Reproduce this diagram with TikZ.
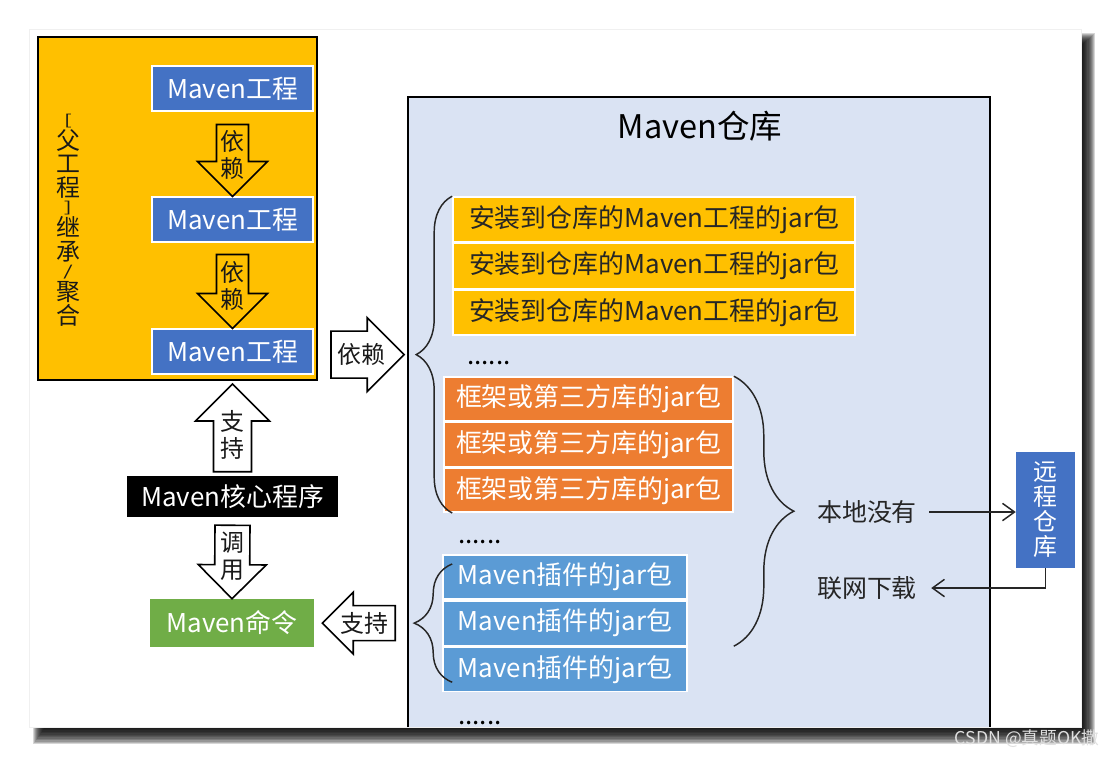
\documentclass[tikz,border=0pt]{standalone}
\usepackage{fontspec}
\setmainfont{Noto Sans CJK SC}
\usepackage{graphicx}
\usetikzlibrary{arrows.meta, positioning, calc, decorations.pathreplacing}

\definecolor{parentorange}{HTML}{FFC000}
\definecolor{projblue}{HTML}{4472C4}
\definecolor{cmdgreen}{HTML}{70AD47}
\definecolor{repofill}{HTML}{DAE3F3}
\definecolor{jaryellow}{HTML}{FFC000}
\definecolor{libred}{HTML}{ED7D31}
\definecolor{pluginblue}{HTML}{5B9BD5}

\newcommand{\pxu}{0.75bp}
\newcommand{\shortch}[1]{\raisebox{3pt}{\scalebox{1}[0.6]{#1}}}
% hollow block arrow: name, tail, tip, shaft half width, head half width, label
\newcommand{\blockarrow}[6]{%
  \coordinate (#1h) at ($(#3)!#5*\pxu!(#2)$);
  \draw[blockarrow] ($(#2)!#4*\pxu!90:(#3)$) -- ($(#1h)!#4*\pxu!90:(#3)$)
    -- ($(#1h)!#5*\pxu!90:(#3)$) -- (#3) -- ($(#1h)!#5*\pxu!-90:(#3)$)
    -- ($(#1h)!#4*\pxu!-90:(#3)$) -- ($(#2)!#4*\pxu!-90:(#3)$) -- cycle;
  \node[arrowlabel] (#1) at ($(#2)!0.42!(#3)$) {#6};
}

\begin{document}
\begin{tikzpicture}[x=0.75bp, y=-0.75bp,
    row/.style={draw=white, line width=1.2bp, inner sep=0pt, font=\fontsize{19.5}{23}\selectfont},
    proj/.style={row, fill=projblue, text=white, minimum width=161*\pxu, minimum height=45*\pxu, line width=0.8bp},
    jarrow/.style={row, fill=jaryellow, text=black!85, minimum width=402*\pxu, minimum height=45*\pxu},
    librow/.style={row, fill=libred, text=white, minimum width=289*\pxu, minimum height=44*\pxu},
    plugrow/.style={row, fill=pluginblue, text=white, minimum width=244*\pxu, minimum height=44.5*\pxu},
    blockarrow/.style={draw=black, line width=1.2bp, line join=miter},
    arrowlabel/.style={align=center, inner sep=0pt, font=\fontsize{18}{20.3}\selectfont, text=black!90},
    lbl/.style={inner xsep=9bp, inner ysep=2bp, font=\fontsize{18.8}{22}\selectfont, text=black!85},
    dots/.style={anchor=base west, inner sep=0pt, font=\fontsize{19.5}{23}\selectfont},
    brace/.style={decorate, draw=black!85, line width=1.1bp},
    conn/.style={draw=black!85, line width=1.1bp, -{Straight Barb[length=9bp,width=13bp]}},
  ]
    \useasboundingbox (0,0) rectangle (1111,757);
    \fill[white] (0,0) rectangle (1111,757);

    % slide with its shadow
    \foreach \k in {0,...,11}
        \fill[black, fill opacity=0.16] (44-\k,44-\k) rectangle (1083+1.1*\k,729+1.4*\k);
    \fill[black!6] (29,29) rectangle (1082,728);
    \fill[white] (30,30) rectangle (1081,727);
    \node[font=\fontsize{13.3}{14}\selectfont, text=black!12, inner sep=0pt] (mark) at (1027,739) {CSDN @真题OK撒};

    % parent project with its modules
    \node[fill=parentorange, draw=black, line width=1.5bp, minimum width=279*\pxu, minimum height=343*\pxu] (parent) at (177.5,208.5) {};
    \node[align=center, inner sep=0pt, font=\fontsize{18}{18}\selectfont, text=black!90] (inherit) at (68,220)
        {\shortch{[}\\[-3pt]父\\工\\程\\[-3pt]\shortch{]}\\[-3pt]继\\承\\[-3pt]\shortch{/}\\[-3pt]聚\\合};
    \node[proj] (p1) at (232.5,88.5) {Maven工程};
    \node[proj] (p2) at (232.5,219.5) {Maven工程};
    \node[proj] (p3) at (232.5,351.5) {Maven工程};

    \coordinate (d1t) at ($(p1.south)+(0,13)$);
    \coordinate (d2t) at ($(p2.south)+(0,12)$);
    \blockarrow{dep1}{d1t}{p2.north}{16}{35}{依\\赖}
    \blockarrow{dep2}{d2t}{p3.north}{16}{35}{依\\赖}

    % core and command
    \node[fill=black, text=white, inner sep=0pt, minimum width=211*\pxu, minimum height=41*\pxu, font=\fontsize{19.5}{23}\selectfont] (core) at (232.5,496.5) {Maven核心程序};
    \node[fill=cmdgreen, text=white, inner sep=0pt, minimum width=164*\pxu, minimum height=48*\pxu, font=\fontsize{19.5}{23}\selectfont] (cmd) at (232,623) {Maven命令};

    \coordinate (s1t) at ($(core.north)+(0,-4)$);
    \coordinate (s1h) at ($(parent.south -| core.north)+(0,3)$);
    \blockarrow{sup1}{s1t}{s1h}{19}{37}{支\\持}
    \coordinate (c1t) at ($(core.south)+(0,8)$);
    \blockarrow{call}{c1t}{cmd.north}{17.5}{34}{调\\用}

    % repository
    \coordinate (repoNW) at (408,97);
    \coordinate (repoSE) at (990,727);
    \fill[repofill] (repoNW) rectangle (repoSE);
    \draw[line width=1.5bp] (repoNW |- repoSE) -- (repoNW) -| (repoSE);
    \node[font=\fontsize{24.5}{28}\selectfont, inner sep=0pt] (title) at (700,126) {Maven仓库};

    \node[jarrow] (y1) at (654,219.5) {安装到仓库的Maven工程的jar包};
    \node[jarrow, below=0pt of y1] (y2) {安装到仓库的Maven工程的jar包};
    \node[jarrow, below=0pt of y2] (y3) {安装到仓库的Maven工程的jar包};
    \node[dots] (etc1) at (467,364) {......};

    \node[librow] (o1) at (588.5,399) {框架或第三方库的jar包};
    \node[librow, below=0pt of o1] (o2) {框架或第三方库的jar包};
    \node[librow, below=0pt of o2] (o3) {框架或第三方库的jar包};
    \node[dots] (etc2) at (458,543) {......};

    \node[plugrow] (m1) at (565,577) {Maven插件的jar包};
    \node[plugrow, below=0pt of m1] (m2) {Maven插件的jar包};
    \node[plugrow, below=0pt of m2] (m3) {Maven插件的jar包};
    \node[dots] (etc3) at (458,724) {......};

    % braces
    \draw[brace, decoration={brace, amplitude=27bp}] (o3.south west -| y1.west) -- (y1.north west);
    \draw[brace, decoration={brace, amplitude=45bp}] (o1.north east) -- (o1.east |- m2.south);
    \draw[brace, decoration={brace, amplitude=28.5bp}] ($(m3.south west)+(10,-10)$) -- ($(m1.north west)+(10,10)$);
    \coordinate (bt1) at ($(y1.north west)!0.5!(o3.south west -| y1.west)+(-36,0)$);
    \coordinate (bt3) at ($(m1.west)!0.5!(m3.west)+(-28,0)$);

    \coordinate (r1t) at ($(bt1 -| parent.east)+(13,0)$);
    \coordinate (r1h) at ($(bt1)+(-12,0)$);
    \blockarrow{dep3}{r1t}{r1h}{23.5}{37}{依赖}
    \coordinate (l1t) at ($(bt3)+(-19,0)$);
    \coordinate (l1h) at ($(bt3 -| cmd.east)+(8,0)$);
    \blockarrow{sup2}{l1t}{l1h}{17.5}{31}{支持}

    % remote repository
    \node[lbl] (local) at (867,512) {本地没有};
    \node[lbl] (dl) at (867,588) {联网下载};
    \node[fill=projblue, text=white, align=center, inner sep=0pt, minimum width=59*\pxu, minimum height=116*\pxu, font=\fontsize{18}{18.8}\selectfont] (remote) at (1045.5,510) {远\\程\\仓\\库};
    \draw[conn] (local.east) -- (local.east -| remote.west);
    \draw[conn] (remote.south) |- ($(dl.east)+(2,0)$);

\end{tikzpicture}
\end{document}
